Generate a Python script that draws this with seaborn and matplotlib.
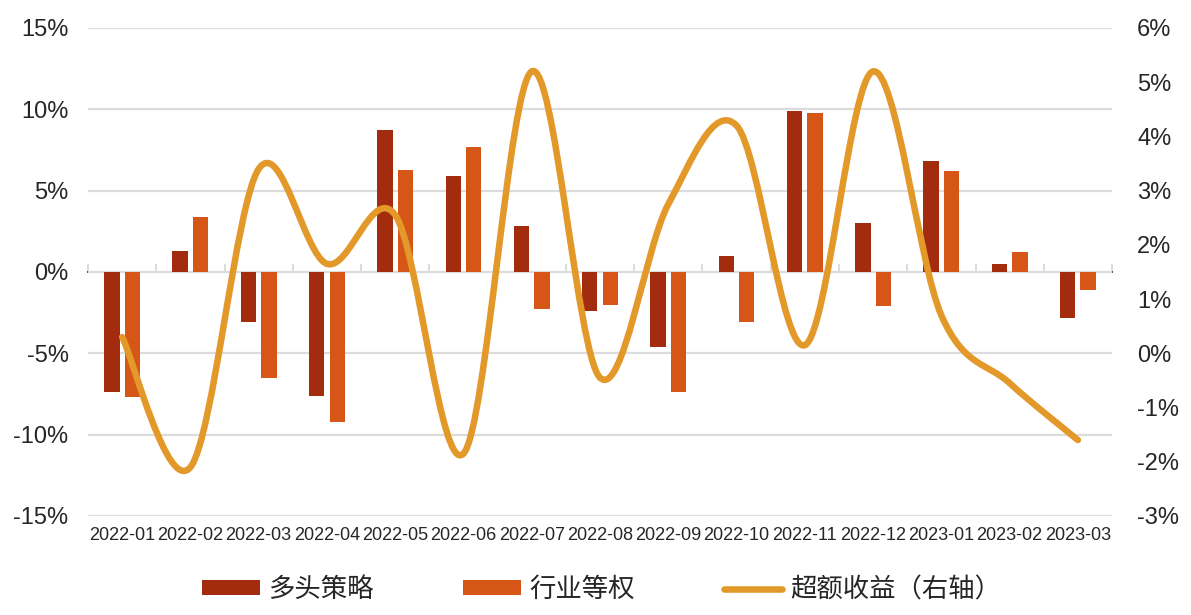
import numpy as np
import pandas as pd
import matplotlib
matplotlib.use("Agg")
import matplotlib.pyplot as plt
import seaborn as sns
from matplotlib.path import Path
from matplotlib.patches import PathPatch, Patch
from matplotlib.lines import Line2D

# 数据
months = ["2022-01", "2022-02", "2022-03", "2022-04", "2022-05", "2022-06",
          "2022-07", "2022-08", "2022-09", "2022-10", "2022-11", "2022-12",
          "2023-01", "2023-02", "2023-03"]
long_only = [-7.4, 1.3, -3.1, -7.6, 8.7, 5.9, 2.8, -2.4, -4.6, 1.0, 9.9, 3.0, 6.8, 0.5, -2.8]
sector_eq = [-7.7, 3.4, -6.5, -9.2, 6.3, 7.7, -2.3, -2.0, -7.4, -3.1, 9.8, -2.1, 6.2, 1.2, -1.1]
excess = [0.3, -2.1, 3.4, 1.65, 2.55, -1.85, 5.2, -0.45, 2.75, 4.2, 0.15, 5.2, 0.7, -0.55, -1.6]

c_dark = "#A32C0F"
c_light = "#D65617"
c_line = "#E3992A"
grid_c = "#DCDCDC"

sns.set_theme(style="white")
plt.rcParams["font.family"] = ["Liberation Sans", "Noto Sans CJK SC"]
plt.rcParams["axes.unicode_minus"] = False

df = pd.DataFrame({
    "month": months * 2,
    "value": long_only + sector_eq,
    "series": ["多头策略"] * len(months) + ["行业等权"] * len(months),
})

fig = plt.figure(figsize=(11.91, 6.15), dpi=100)
ax = fig.add_axes([0.0739, 0.161, 0.8598, 0.7935])

sns.barplot(data=df, x="month", y="value", hue="series", order=months,
            palette=[c_dark, c_light], width=0.6, gap=0.25, dodge=True,
            legend=False, ax=ax, linewidth=0, saturation=1)

ax.set_xlim(-0.5, len(months) - 0.5)
ax.set_ylim(-15, 15)
ax.set_yticks(np.arange(-15, 16, 5))
ax.set_yticklabels([f"{v}%" for v in range(-15, 16, 5)])
ax.yaxis.grid(True, color=grid_c, linewidth=1.6)
ax.set_axisbelow(True)
ax.set_xlabel("")
ax.set_ylabel("")
for s in ax.spines.values():
    s.set_visible(False)
ax.tick_params(axis="y", length=0, pad=14, labelsize=17)
ax.tick_params(axis="x", length=0, pad=8)
for lab in ax.get_xticklabels():
    lab.set_family(["Liberation Sans Narrow", "Liberation Sans"])
    lab.set_fontsize(13)

# 分类轴刻度线（在0处）
sec = ax.secondary_xaxis(0.5)
sec.set_xticks(np.arange(-0.5, len(months), 1.0))
sec.set_xticklabels([])
sec.tick_params(axis="x", length=6, width=1.4, color=grid_c)
sec.spines["bottom"].set_visible(False)

# 右轴：超额收益平滑曲线
ax2 = ax.twinx()
ax2.set_ylim(-3, 6)
ax2.set_yticks(np.arange(-3, 7, 1))
ax2.set_yticklabels([f"{v}%" for v in range(-3, 7)])
for s in ax2.spines.values():
    s.set_visible(False)
ax2.tick_params(axis="y", length=0, pad=18, labelsize=17)
ax2.grid(False)

pts = np.column_stack([np.arange(len(excess)), excess]).astype(float)
padded = np.vstack([pts[0], pts, pts[-1]])
verts = [tuple(pts[0])]
codes = [Path.MOVETO]
for i in range(len(pts) - 1):
    p0, p1, p2, p3 = padded[i], padded[i + 1], padded[i + 2], padded[i + 3]
    c1 = p1 + (p2 - p0) / 6
    c2 = p2 - (p3 - p1) / 6
    verts += [tuple(c1), tuple(c2), tuple(p2)]
    codes += [Path.CURVE4] * 3
curve = PathPatch(Path(verts, codes), facecolor="none", edgecolor=c_line,
                  linewidth=4.7, capstyle="round", joinstyle="round")
ax2.add_patch(curve)
ax2.set_xlim(-0.5, len(months) - 0.5)

handles = [
    Patch(facecolor=c_dark, edgecolor="none", label="多头策略"),
    Patch(facecolor=c_light, edgecolor="none", label="行业等权"),
    Line2D([0], [0], color=c_line, linewidth=4.7, solid_capstyle="round", label="超额收益（右轴）"),
]
fig.legend(handles=handles, loc="center", bbox_to_anchor=(0.505, 0.041), ncol=3,
           frameon=False, prop={"family": ["Noto Sans CJK SC"], "size": 19, "weight": "light"},
           handlelength=2.2, handleheight=0.5,
           handletextpad=0.3, columnspacing=3.4)

fig.savefig("out.png", dpi=100)
